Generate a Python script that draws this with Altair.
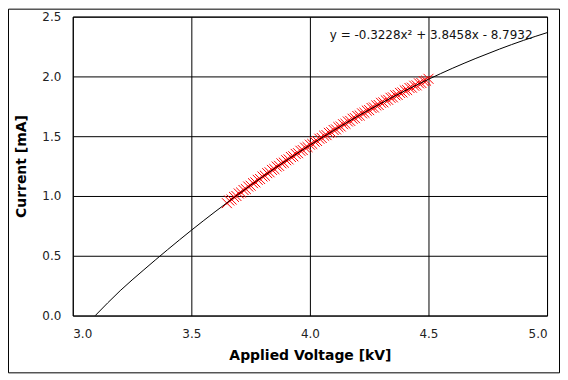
import altair as alt
import pandas as pd

# Trend line
fit_voltage = [3.095, 3.2, 3.3, 3.4, 3.5, 3.6, 3.7, 3.8, 3.9, 4.0, 4.1, 4.2,
               4.3, 4.4, 4.5, 4.6, 4.7, 4.8, 4.9, 5.0]
fit_current = [0.0, 0.208, 0.383, 0.551, 0.713, 0.868, 1.017, 1.160, 1.296,
               1.425, 1.548, 1.665, 1.775, 1.879, 1.976, 2.067, 2.151, 2.229,
               2.301, 2.366]

# Measured points (red crosses)
meas_voltage = [3.65, 3.66, 3.67, 3.68, 3.69, 3.70, 3.71, 3.72, 3.73, 3.74,
                3.75, 3.76, 3.77, 3.78, 3.79, 3.80, 3.81, 3.82, 3.83, 3.84,
                3.85, 3.86, 3.87, 3.88, 3.89, 3.90, 3.91, 3.92, 3.93, 3.94,
                3.95, 3.96, 3.97, 3.98, 3.99, 4.00, 4.01, 4.02, 4.03, 4.04,
                4.05, 4.06, 4.07, 4.08, 4.09, 4.10, 4.11, 4.12, 4.13, 4.14,
                4.15, 4.16, 4.17, 4.18, 4.19, 4.20, 4.21, 4.22, 4.23, 4.24,
                4.25, 4.26, 4.27, 4.28, 4.29, 4.30, 4.31, 4.32, 4.33, 4.34,
                4.35, 4.36, 4.37, 4.38, 4.39, 4.40, 4.41, 4.42, 4.43, 4.44,
                4.45, 4.46, 4.47, 4.48, 4.49, 4.50]
meas_current = [0.940, 0.962, 0.970, 0.992, 1.000, 1.021, 1.029, 1.050, 1.058,
                1.079, 1.086, 1.107, 1.114, 1.135, 1.142, 1.163, 1.170, 1.191,
                1.198, 1.218, 1.225, 1.246, 1.252, 1.273, 1.279, 1.299, 1.306,
                1.326, 1.332, 1.352, 1.358, 1.378, 1.384, 1.404, 1.409, 1.429,
                1.435, 1.454, 1.460, 1.479, 1.485, 1.504, 1.509, 1.528, 1.533,
                1.552, 1.557, 1.576, 1.581, 1.600, 1.604, 1.623, 1.628, 1.646,
                1.651, 1.669, 1.673, 1.691, 1.696, 1.714, 1.718, 1.736, 1.740,
                1.757, 1.761, 1.779, 1.783, 1.800, 1.804, 1.821, 1.825, 1.842,
                1.845, 1.862, 1.866, 1.883, 1.886, 1.903, 1.906, 1.922, 1.925,
                1.942, 1.945, 1.961, 1.964, 1.980]

x_ticks = [3.0, 3.5, 4.0, 4.5, 5.0]
y_ticks = [0.0, 0.5, 1.0, 1.5, 2.0, 2.5]

equation = "y = -0.3228x\u00b2 + 3.8458x - 8.7932"

fit_df = pd.DataFrame({"V": fit_voltage, "I": fit_current})
meas_df = pd.DataFrame({"V": meas_voltage, "I": meas_current})
eq_df = pd.DataFrame({"V": [4.084], "I": [2.35], "t": [equation]})

FONT = "DejaVu Sans"

xs = alt.Scale(domain=[3.0, 5.0], nice=False)
ys = alt.Scale(domain=[0.0, 2.5], nice=False)

x_axis = alt.Axis(values=x_ticks, format=".1f", title="Applied Voltage [kV]")
y_axis = alt.Axis(values=y_ticks, format=".1f", title="Current [mA]")

frame = alt.Chart(pd.DataFrame({"a": [0]})).mark_rect(
    fill=None, stroke="black", strokeWidth=1
).encode(
    x=alt.value(-64.5), x2=alt.value(488.5),
    y=alt.value(-7.5), y2=alt.value(357.5)
)

points = alt.Chart(meas_df).mark_point(
    shape="M-1,-1L1,1M-1,1L1,-1", size=100, filled=False,
    stroke="#ff0000", strokeWidth=1, opacity=1
).encode(
    x=alt.X("V:Q", scale=xs, axis=x_axis),
    y=alt.Y("I:Q", scale=ys, axis=y_axis),
)

line = alt.Chart(fit_df).mark_line(
    color="black", strokeWidth=1, interpolate="monotone"
).encode(
    x=alt.X("V:Q", scale=xs),
    y=alt.Y("I:Q", scale=ys),
)

eq = alt.Chart(eq_df).mark_text(
    align="left", baseline="middle", font=FONT, fontSize=12, color="#111"
).encode(
    x=alt.X("V:Q", scale=xs),
    y=alt.Y("I:Q", scale=ys),
    text="t:N",
)

chart = alt.layer(frame, points, line, eq).properties(
    width=476, height=300,
    autosize=alt.AutoSizeParams(type="none"),
    padding={"left": 65, "top": 8, "right": 13, "bottom": 58},
).configure_view(
    stroke="black", strokeWidth=1
).configure_axis(
    grid=True, gridColor="black", gridWidth=1, gridOpacity=1,
    domain=False, ticks=False, tickSize=0,
    labelFont=FONT, labelFontSize=12, labelColor="#222",
    titleFont=FONT, titleFontSize=14, titleFontWeight="bold", titleColor="black",
).configure_axisX(
    labelPadding=13, titlePadding=9
).configure_axisY(
    labelPadding=12, titlePadding=13
)

chart.save("out.html", embed_options={"renderer": "svg", "actions": False})
